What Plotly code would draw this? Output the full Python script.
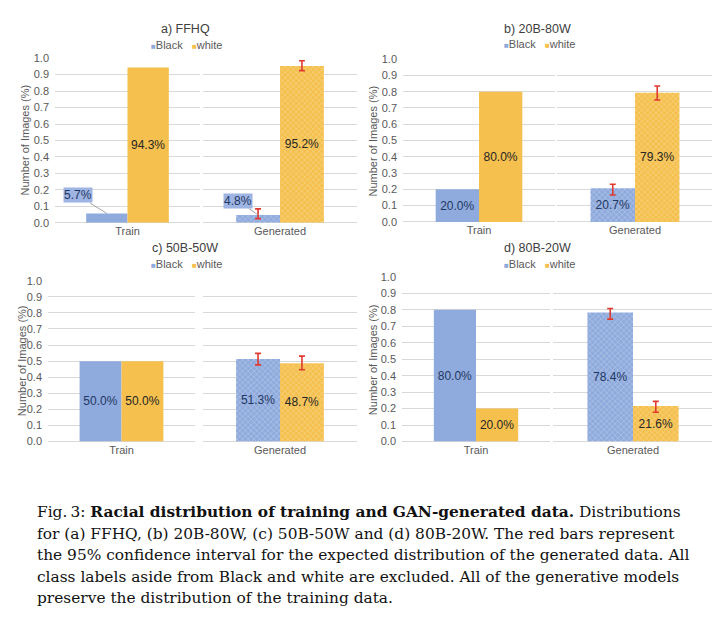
import plotly.graph_objects as go

# ---------------- data ----------------
panel_titles = ["a) FFHQ", "b) 20B-80W", "c) 50B-50W", "d) 80B-20W"]
categories = ["Train", "Generated"]
series_names = ["Black", "white"]
y_title = "Number of Images (%)"

black_train = [0.057, 0.200, 0.500, 0.800]
white_train = [0.943, 0.800, 0.500, 0.200]
black_gen = [0.048, 0.207, 0.513, 0.784]
white_gen = [0.952, 0.793, 0.487, 0.216]

# 95% confidence interval bounds (red bars) for generated data
black_ci_low = [0.026, 0.165, 0.477, 0.743]
black_ci_high = [0.085, 0.231, 0.548, 0.808]
white_ci_low = [0.924, 0.749, 0.446, 0.178]
white_ci_high = [0.984, 0.835, 0.531, 0.244]

y_ticks = [0.0, 0.1, 0.2, 0.3, 0.4, 0.5, 0.6, 0.7, 0.8, 0.9, 1.0]

caption_lines = [
    "Fig.\u20093: <b>Racial distribution of training and GAN-generated data.</b> Distributions",
    "for (a) FFHQ, (b) 20B-80W, (c) 50B-50W and (d) 80B-20W. The red bars represent",
    "the 95% confidence interval for the expected distribution of the generated data. All",
    "class labels aside from Black and white are excluded. All of the generative models",
    "preserve the distribution of the training data.",
]

# ---------------- style / layout ----------------
PAGE_W, PAGE_H = 720, 627
OFF = 8  # default page body margin
W, H = PAGE_W - OFF, PAGE_H - OFF
BLUE = "#8FAADC"
GOLD = "#F5C04D"
BLUE_TXT = "#1F3864"
GOLD_TXT = "#262626"
AX_TXT = "#595959"
GRID = "#D9D9D9"
RED = "#E0392F"
SANS = "Liberation Sans, Arial, sans-serif"
SERIF = "DejaVu Serif, serif"
BARGAP = 0.43


def fx(px):
    return (px - OFF) / W


def fy(py):
    return 1 - (py - OFF) / H


# pixel boxes (page coords): (train x0, train x1, gen x0, gen x1, y top, y bottom)
boxes = [
    (55, 200, 203, 357, 53, 221),
    (403, 555, 557, 713, 54, 220),
    (48, 195, 203, 357, 280, 444),
    (402, 550, 553, 713, 276, 444),
]
title_pos = [(185, 23), (537, 23), (185, 247), (537, 247)]
legend_pos = [(186, 40), (539, 39), (186, 263), (539, 263)]
ytitle_x = [25, 373, 22, 373]

fig = go.Figure()
layout = dict(
    width=W, height=H,
    margin=dict(l=0, r=0, t=0, b=0),
    paper_bgcolor="white", plot_bgcolor="white",
    barmode="group", bargap=BARGAP, bargroupgap=0,
    showlegend=False,
    font=dict(family=SANS, size=11, color=AX_TXT),
)
annotations = []

pattern = dict(shape="x", size=4, solidity=0.35, fillmode="overlay",
               fgcolor="rgba(255,255,255,0.55)")

for p in range(4):
    tx0, tx1, gx0, gx1, yt, yb = boxes[p]
    k_t, k_g = 2 * p + 1, 2 * p + 2
    for k, (x0, x1), is_train in [(k_t, (tx0, tx1), True), (k_g, (gx0, gx1), False)]:
        xa = "xaxis" if k == 1 else f"xaxis{k}"
        ya = "yaxis" if k == 1 else f"yaxis{k}"
        layout[xa] = dict(
            domain=[fx(x0), min(fx(x1), 1.0)], anchor=f"y{k if k > 1 else ''}",
            showgrid=False, showline=False, zeroline=False, ticks="",
            tickfont=dict(size=11, color=AX_TXT), fixedrange=True,
        )
        layout[ya] = dict(
            domain=[fy(yb), fy(yt)], anchor=f"x{k if k > 1 else ''}",
            range=[0, 1.0], tickvals=y_ticks, tickformat=".1f",
            showgrid=True, gridcolor=GRID, gridwidth=1,
            zeroline=True, zerolinecolor=GRID, zerolinewidth=1,
            showline=False, showticklabels=is_train, ticks="",
            tickfont=dict(size=11, color=AX_TXT), ticklabelstandoff=5,
            fixedrange=True,
        )

    xs = "x" if k_t == 1 else f"x{k_t}"
    ys = "y" if k_t == 1 else f"y{k_t}"
    xg, yg = f"x{k_g}", f"y{k_g}"

    black_text = "" if p == 0 else "%{y:.1%}"
    fig.add_trace(go.Bar(
        x=[categories[0]], y=[black_train[p]], name=series_names[0], xaxis=xs, yaxis=ys,
        marker=dict(color=BLUE, line=dict(width=0)), texttemplate=black_text,
        textposition="inside", insidetextanchor="middle", textangle=0,
        insidetextfont=dict(size=12, color=BLUE_TXT), hoverinfo="skip"))
    fig.add_trace(go.Bar(
        x=[categories[0]], y=[white_train[p]], name=series_names[1], xaxis=xs, yaxis=ys,
        marker=dict(color=GOLD, line=dict(width=0)), texttemplate="%{y:.1%}",
        textposition="inside", insidetextanchor="middle", textangle=0,
        insidetextfont=dict(size=12, color=GOLD_TXT), hoverinfo="skip"))
    fig.add_trace(go.Bar(
        x=[categories[1]], y=[black_gen[p]], name=series_names[0], xaxis=xg, yaxis=yg,
        marker=dict(color=BLUE, line=dict(width=0), pattern=pattern), texttemplate=black_text,
        textposition="inside", insidetextanchor="middle", textangle=0,
        insidetextfont=dict(size=12, color=BLUE_TXT), hoverinfo="skip",
        error_y=dict(type="data", symmetric=False,
                     array=[black_ci_high[p] - black_gen[p]],
                     arrayminus=[black_gen[p] - black_ci_low[p]],
                     color=RED, thickness=1.6, width=3)))
    fig.add_trace(go.Bar(
        x=[categories[1]], y=[white_gen[p]], name=series_names[1], xaxis=xg, yaxis=yg,
        marker=dict(color=GOLD, line=dict(width=0), pattern=pattern), texttemplate="%{y:.1%}",
        textposition="inside", insidetextanchor="middle", textangle=0,
        insidetextfont=dict(size=12, color=GOLD_TXT), hoverinfo="skip",
        error_y=dict(type="data", symmetric=False,
                     array=[white_ci_high[p] - white_gen[p]],
                     arrayminus=[white_gen[p] - white_ci_low[p]],
                     color=RED, thickness=1.6, width=3)))

    # panel title
    annotations.append(dict(
        text=panel_titles[p], xref="paper", yref="paper",
        x=fx(title_pos[p][0]), y=fy(title_pos[p][1]), xanchor="center", yanchor="middle",
        showarrow=False, font=dict(size=12.5, color="#404040", family=SANS)))
    # legend
    annotations.append(dict(
        text=(f"<span style='color:{BLUE};font-size:8px'>\u25A0</span>{series_names[0]}"
              f"&nbsp;&nbsp;&nbsp;<span style='color:{GOLD};font-size:8px'>\u25A0</span>{series_names[1]}"),
        xref="paper", yref="paper",
        x=fx(legend_pos[p][0]), y=fy(legend_pos[p][1]), xanchor="center", yanchor="middle",
        showarrow=False, font=dict(size=11, color=AX_TXT, family=SANS)))
    # y-axis title
    annotations.append(dict(
        text=y_title, xref="paper", yref="paper", textangle=-90,
        x=fx(ytitle_x[p]), y=fy((yt + yb) / 2), xanchor="center", yanchor="middle",
        showarrow=False, font=dict(size=11, color=AX_TXT, family=SANS)))

# callout labels for the small Black bars in panel a
black_center = -(1 - BARGAP) / 4
for xr, yr, val, ax, ay in [("x", "y", black_train[0], -29, -18),
                            ("x2", "y2", black_gen[0], -20, -14)]:
    annotations.append(dict(
        text=f"{val * 100:.1f}%", xref=xr, yref=yr, x=black_center, y=val,
        showarrow=True, arrowhead=0, arrowwidth=1, arrowcolor="#A6A6A6",
        ax=ax, ay=ay, bgcolor="#9EB4E2", borderpad=0,
        font=dict(size=12, color=BLUE_TXT, family=SANS)))

# caption
cap_y = [516, 538, 560, 582, 604]
for line, yy in zip(caption_lines, cap_y):
    annotations.append(dict(
        text=line, xref="paper", yref="paper", x=fx(35), y=fy(yy),
        xanchor="left", yanchor="middle", showarrow=False,
        font=dict(size=15.4, color="#111111", family=SERIF)))

layout["annotations"] = annotations
fig.update_layout(**layout)
fig.write_html("out.html")
